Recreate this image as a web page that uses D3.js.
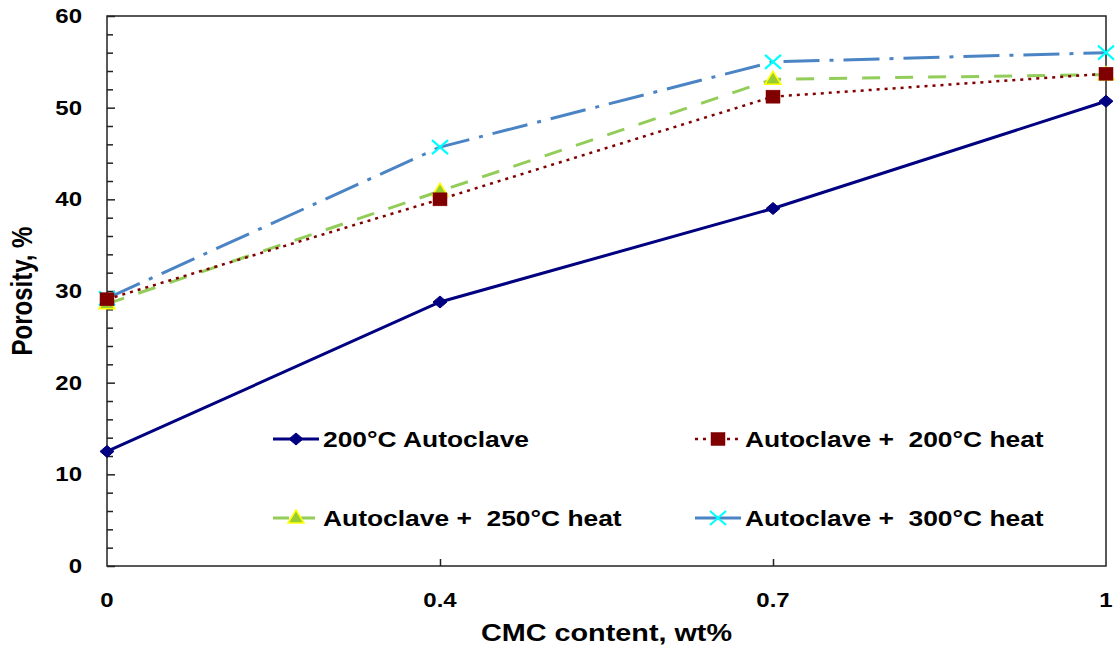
<!DOCTYPE html>
<html>
<head>
<meta charset="utf-8">
<script src="https://cdn.jsdelivr.net/npm/d3@7"></script>
<style>
  html, body { margin: 0; padding: 0; background: #fff; }
  svg text { font-family: "Liberation Sans", Arial, sans-serif; font-weight: bold; fill: #000; white-space: pre; }
</style>
</head>
<body>
<svg id="chart" width="1115" height="650"></svg>
<script>
// CMC content categories (evenly spaced on the x axis)
const categories = ["0", "0.4", "0.7", "1"];

// Porosity (%) per treatment
const autoclave200 = [12.5, 28.8, 39.0, 50.7];
const heat200 = [29.1, 40.0, 51.2, 53.7];
const heat250 = [28.6, 40.9, 53.1, 53.6];
const heat300 = [29.2, 45.7, 55.0, 56.0];

const seriesNames = [
  "200°C Autoclave",
  "Autoclave +  200°C heat",
  "Autoclave +  250°C heat",
  "Autoclave +  300°C heat"
];

const yTicks = [0, 10, 20, 30, 40, 50, 60];
const yMinorTicks = d3.range(0, 61, 2);

const margin = { left: 107, right: 9, top: 16, bottom: 84 };
const W = 1115, H = 650;
const svg = d3.select("#chart");

// Text is drawn slightly widened horizontally
const TX = 1.2;
function label(parent, px, py, str, size, anchor, rotate) {
  return parent.append("text")
    .attr("transform", `translate(${px},${py}) scale(${TX},1)` + (rotate ? ` rotate(${rotate})` : ""))
    .attr("text-anchor", anchor)
    .attr("font-size", size)
    .text(str);
}

const x = d3.scalePoint().domain(categories).range([margin.left, W - margin.right]);
const y = d3.scaleLinear().domain([0, 60]).range([H - margin.bottom, margin.top]);

const styles = [
  { color: "#000080", width: 3, dash: null, marker: "diamond" },
  { color: "#800000", width: 2.5, dash: "3,5", marker: "square" },
  { color: "#92CD5A", width: 3, dash: "18,15", marker: "triangle" },
  { color: "#4A84C4", width: 3, dash: "36,10,4,10", marker: "x" }
];
const data = [autoclave200, heat200, heat250, heat300];

// Plot frame
svg.append("rect")
  .attr("x", x(categories[0])).attr("y", y(60))
  .attr("width", x(categories[3]) - x(categories[0]))
  .attr("height", y(0) - y(60))
  .attr("fill", "none").attr("stroke", "#222").attr("stroke-width", 1.5);

// Y axis: ticks drawn inward
const yAxis = d3.axisRight(y).tickValues(yMinorTicks).tickSize(6).tickFormat("");
svg.append("g").attr("transform", `translate(${x(categories[0])},0)`)
  .call(yAxis)
  .call(g => g.select(".domain").remove())
  .call(g => g.selectAll("line").attr("stroke", "#222").attr("stroke-width", 1.5)
    .attr("x2", d => d % 10 === 0 ? 8 : 6));

const yLab = svg.append("g");
yTicks.forEach(d => label(yLab, 82, y(d) + 7, String(d), 20, "end"));

// X axis: inward ticks at inner categories
const xAxis = d3.axisTop(x).tickValues(categories.slice(1, 3)).tickSize(7).tickFormat("");
svg.append("g").attr("transform", `translate(0,${y(0)})`)
  .call(xAxis)
  .call(g => g.select(".domain").remove())
  .call(g => g.selectAll("line").attr("stroke", "#222").attr("stroke-width", 1.5));

const xLab = svg.append("g");
categories.forEach(d => label(xLab, x(d), 607, d, 20, "middle"));

// Axis titles
label(svg, (x(categories[0]) + x(categories[3])) / 2, 641, "CMC content, wt%", 24, "middle");
label(svg, 32, (y(0) + y(60)) / 2, "Porosity, %", 24, "middle", -90);

// Marker drawing
function drawMarker(g, type, cx, cy) {
  if (type === "diamond") {
    g.append("path").attr("d", `M${cx},${cy - 6}L${cx + 7},${cy}L${cx},${cy + 6}L${cx - 7},${cy}Z`)
      .attr("fill", "#000080").attr("stroke", "#000080");
  } else if (type === "square") {
    g.append("rect").attr("x", cx - 7).attr("y", cy - 6.5).attr("width", 14).attr("height", 13)
      .attr("fill", "#800000").attr("stroke", "#800000").attr("stroke-width", 0.5);
  } else if (type === "triangle") {
    g.append("path").attr("d", `M${cx},${cy - 8}L${cx + 8},${cy + 5}L${cx - 8},${cy + 5}Z`)
      .attr("fill", "#99CC33").attr("stroke", "#FFFF00").attr("stroke-width", 1.5);
  } else if (type === "x") {
    g.append("path").attr("d", `M${cx - 8},${cy - 7}L${cx + 8},${cy + 7}M${cx - 8},${cy + 7}L${cx + 8},${cy - 7}`)
      .attr("stroke", "#00FFFF").attr("stroke-width", 2.2).attr("fill", "none");
  }
}

const line = d3.line().x((d, i) => x(categories[i])).y(d => y(d));

// Series lines and markers (first series drawn last so it sits on top)
[3, 2, 1, 0].forEach(si => {
  const st = styles[si];
  svg.append("path").datum(data[si])
    .attr("d", line)
    .attr("fill", "none").attr("stroke", st.color).attr("stroke-width", st.width)
    .attr("stroke-dasharray", st.dash);
  const g = svg.append("g");
  data[si].forEach((v, i) => drawMarker(g, st.marker, x(categories[i]), y(v)));
});

// Legend (2 x 2)
const legendPos = [
  { x: 273, y: 439 }, { x: 695, y: 439 },
  { x: 273, y: 518 }, { x: 695, y: 518 }
];
seriesNames.forEach((name, si) => {
  const st = styles[si], p = legendPos[si];
  const g = svg.append("g");
  g.append("line").attr("x1", p.x).attr("x2", p.x + 46).attr("y1", p.y).attr("y2", p.y)
    .attr("stroke", st.color).attr("stroke-width", st.width)
    .attr("stroke-dasharray", si === 2 ? "16,10" : si === 1 ? "3,5" : null);
  drawMarker(g, st.marker, p.x + 23, p.y);
  label(g, p.x + 50, p.y + 8, name, 22, "start");
});
</script>
</body>
</html>
